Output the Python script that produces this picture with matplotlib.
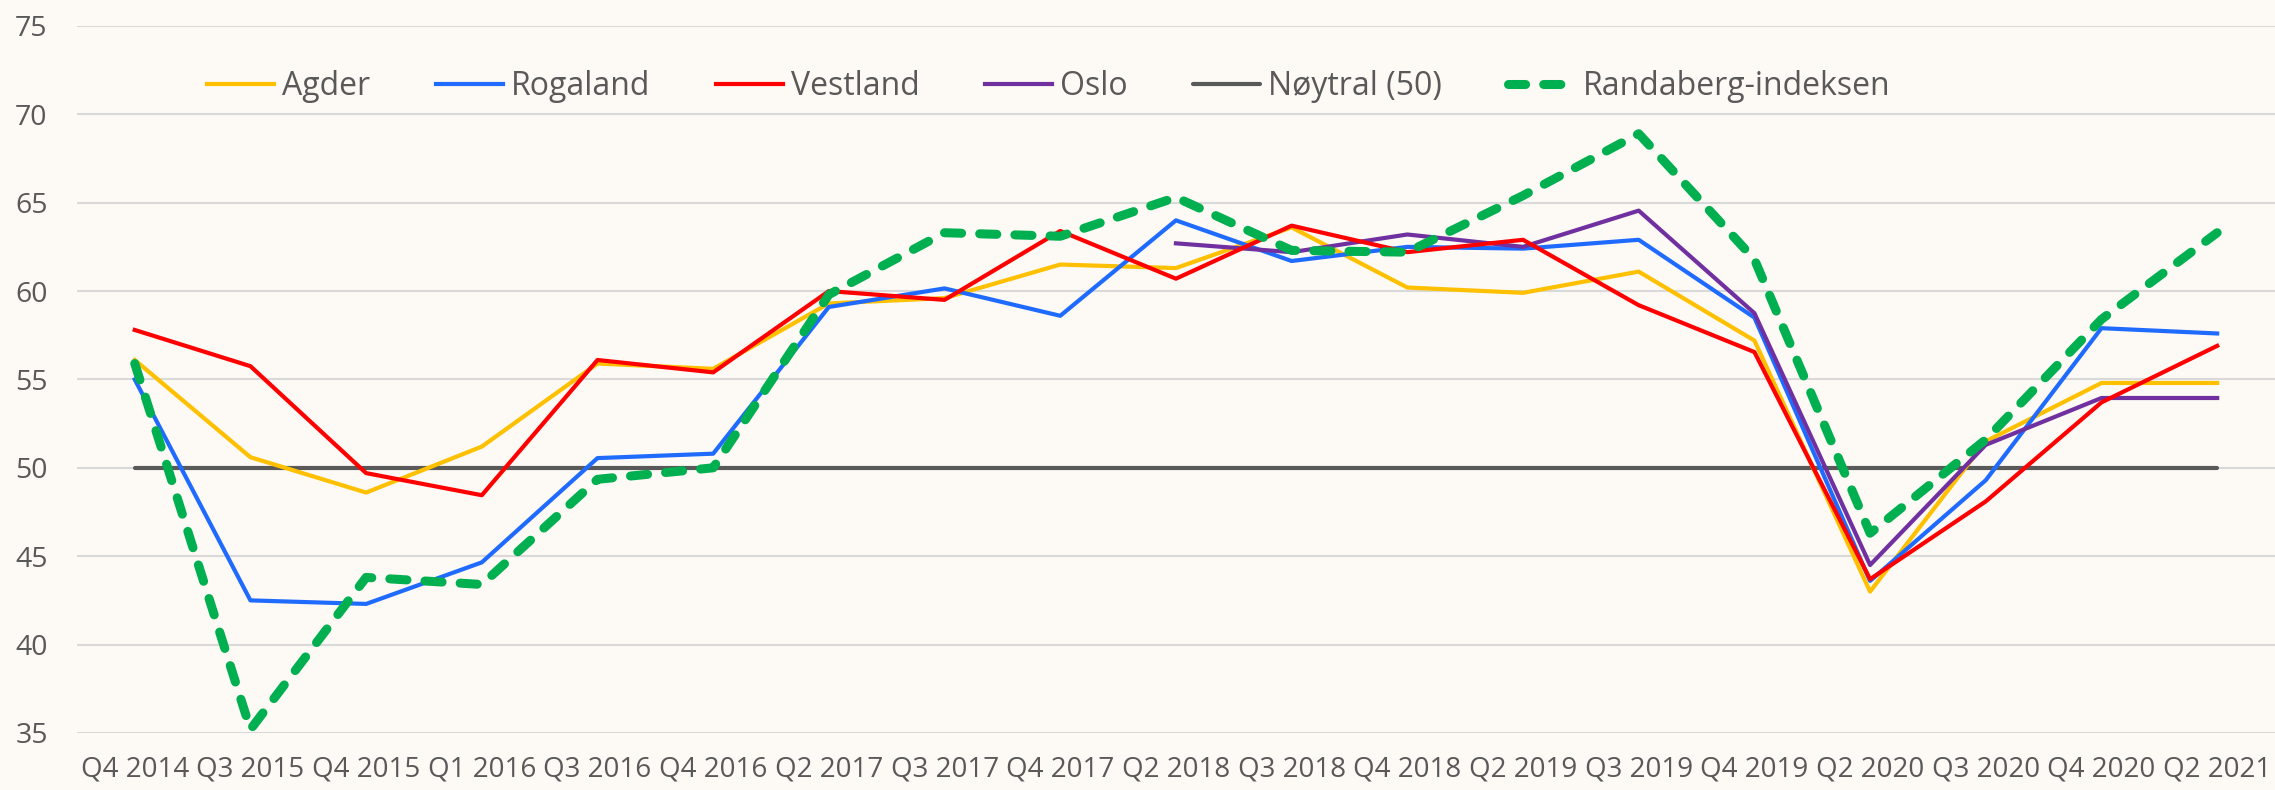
import matplotlib
matplotlib.use("Agg")
import matplotlib.pyplot as plt
import numpy as np

quarters = ["Q4 2014", "Q3 2015", "Q4 2015", "Q1 2016", "Q3 2016", "Q4 2016",
            "Q2 2017", "Q3 2017", "Q4 2017", "Q2 2018", "Q3 2018", "Q4 2018",
            "Q2 2019", "Q3 2019", "Q4 2019", "Q2 2020", "Q3 2020", "Q4 2020",
            "Q2 2021"]

agder = [56.1, 50.6, 48.6, 51.2, 55.9, 55.6, 59.3, 59.6, 61.5, 61.3, 63.6,
         60.2, 59.9, 61.1, 57.2, 43.0, 51.5, 54.8, 54.8]
rogaland = [55.0, 42.5, 42.3, 44.65, 50.55, 50.8, 59.1, 60.15, 58.6, 64.0,
            61.7, 62.5, 62.4, 62.9, 58.5, 43.6, 49.3, 57.9, 57.6]
vestland = [57.8, 55.75, 49.7, 48.45, 56.1, 55.4, 60.0, 59.5, 63.4, 60.7,
            63.7, 62.2, 62.9, 59.2, 56.55, 43.7, 48.1, 53.7, 56.9]
oslo = [np.nan] * 9 + [62.7, 62.2, 63.2, 62.5, 64.55, 58.75, 44.5, 51.3,
                       53.95, 53.95]
noytral = [50] * 19
randaberg = [55.9, 35.2, 43.8, 43.4, 49.35, 50.0, 59.8, 63.3, 63.1, 65.3,
             62.3, 62.2, 65.4, 68.9, 61.8, 46.3, 51.6, 58.4, 63.3]

bg = "#FDF9F4"
txt = "#595959"

plt.rcParams['font.family'] = ["Open Sans", "DejaVu Sans"]

fig = plt.figure(figsize=(22.75, 7.9), dpi=100)
fig.patch.set_facecolor(bg)
ax = fig.add_axes([0.0338, 0.0722, 0.9662, 0.895])
ax.set_facecolor(bg)

x = np.arange(len(quarters))

ax.plot(x, agder, color="#FFC000", lw=3.0, label="Agder", zorder=3)
ax.plot(x, rogaland, color="#1F6BFF", lw=3.0, label="Rogaland", zorder=3)
ax.plot(x, vestland, color="#FF0000", lw=3.0, label="Vestland", zorder=4)
ax.plot(x, oslo, color="#7030A0", lw=3.0, label="Oslo", zorder=3)
ax.plot(x, noytral, color="#595959", lw=3.0, label="Nøytral (50)", zorder=2,
        solid_capstyle="round")
ax.plot(x, randaberg, color="#00B050", lw=6.5, label="Randaberg-indeksen",
        dashes=(1.9, 2.0), dash_capstyle="round", zorder=5)

ax.set_xlim(-0.5, len(quarters) - 0.5)
ax.set_ylim(35, 75)
ax.set_yticks(range(35, 80, 5))
ax.set_xticks(x)
ax.set_xticklabels(quarters)

ax.grid(axis="y", color="#D9D9D9", lw=1.5, zorder=0)
ax.set_axisbelow(True)
for s in ax.spines.values():
    s.set_visible(False)

ax.tick_params(axis="y", length=0, pad=21, labelsize=20.5, labelcolor=txt)
ax.tick_params(axis="x", length=0, pad=16, labelsize=20, labelcolor=txt)

leg = fig.legend(loc="center", bbox_to_anchor=(0.461, 0.89), ncol=6,
                 frameon=False, fontsize=23, handlelength=2.1,
                 handletextpad=0.25, columnspacing=2.05)
for t in leg.get_texts():
    t.set_color(txt)

fig.savefig("out.png", dpi=100, facecolor=bg)
